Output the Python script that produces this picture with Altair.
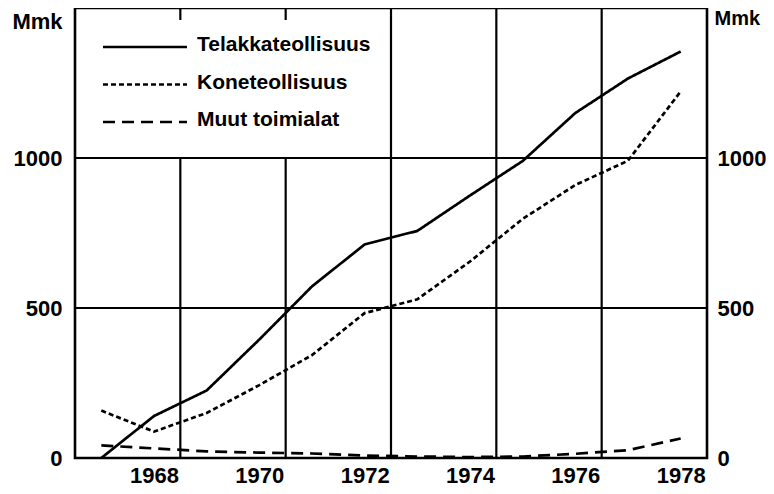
import altair as alt
import pandas as pd

# ---- data ----
years = list(range(1967, 1979))
telakka = [0, 140, 225, 395, 572, 712, 757, 875, 990, 1150, 1265, 1355]
kone = [158, 88, 150, 243, 343, 483, 529, 655, 797, 910, 991, 1222]
muut = [42, 32, 22, 18, 15, 8, 5, 3, 5, 14, 26, 65]
series_names = ["Telakkateollisuus", "Koneteollisuus", "Muut toimialat"]
x_labels = [1968, 1970, 1972, 1974, 1976, 1978]
y_labels = [0, 500, 1000]
x_domain = [1966.5, 1978.5]
y_domain = [0, 1500]
vgrid_x = [1968.5, 1970.5, 1972.5, 1974.5, 1976.5]
vgrid_top = [1000, 1000, 1500, 1500, 1500]
stub_x = [1968.5, 1970.5]
hgrid_y = [500, 1000]
y_unit = "Mmk"

FONT = "Liberation Sans"

rows = []
for name, vals in zip(series_names, [telakka, kone, muut]):
    for yr, v in zip(years, vals):
        rows.append({"series": name, "year": yr, "value": v})
df = pd.DataFrame(rows)

vg = pd.DataFrame({"x": vgrid_x, "y0": [0] * len(vgrid_x), "y1": vgrid_top})
stubs = pd.DataFrame({"x": stub_x, "y0": [1460] * len(stub_x), "y1": [1500] * len(stub_x)})
hg = pd.DataFrame({"y": hgrid_y})
leg = pd.DataFrame({"series": series_names, "i": list(range(len(series_names)))})

xscale = alt.Scale(domain=x_domain, nice=False, zero=False)
yscale = alt.Scale(domain=y_domain, nice=False, zero=False)
dash = alt.StrokeDash(
    "series:N",
    scale=alt.Scale(domain=series_names, range=[[1, 0], [5, 3], [12, 7]]),
    legend=None,
)

x_axis = alt.Axis(
    values=x_labels, format="d", ticks=False, domain=False, grid=False,
    labelPadding=7, labelFont=FONT, labelFontSize=22, labelFontWeight="bold",
    labelColor="black", labelOverlap=False, labelFlush=False, title=None,
)

vlines = alt.Chart(vg).mark_rule(color="black", strokeWidth=2.2).encode(
    x=alt.X("x:Q", scale=xscale, axis=x_axis),
    y=alt.Y("y0:Q", scale=yscale, axis=None),
    y2="y1:Q",
)
vstubs = alt.Chart(stubs).mark_rule(color="black", strokeWidth=2.2).encode(
    x=alt.X("x:Q", scale=xscale, axis=x_axis),
    y=alt.Y("y0:Q", scale=yscale, axis=None),
    y2="y1:Q",
)
hlines = alt.Chart(hg).mark_rule(color="black", strokeWidth=2.2).encode(
    y=alt.Y(
        "y:Q",
        scale=yscale,
        axis=alt.Axis(
            orient="right", values=y_labels, format="d", ticks=False, domain=False,
            grid=False, labelPadding=10, labelFont=FONT, labelFontSize=22,
            labelFontWeight="bold", labelColor="black", labelOverlap=False,
            labelFlush=False, labelAlign="left",
            title=y_unit, titleAngle=0, titleX=7, titleY=10, titleAlign="left",
            titleBaseline="middle", titleFont=FONT, titleFontSize=20,
            titleFontWeight="bold", titleColor="black",
        ),
    )
)

lines = alt.Chart(df).mark_line(color="black", strokeWidth=2.7).encode(
    x=alt.X("year:Q", scale=xscale, axis=x_axis),
    y=alt.Y(
        "value:Q",
        scale=yscale,
        axis=alt.Axis(
            orient="left", values=y_labels, format="d", ticks=False, domain=False,
            grid=False, labelPadding=13, labelFont=FONT, labelFontSize=22,
            labelFontWeight="bold", labelColor="black", labelOverlap=False,
            labelFlush=False,
            title=y_unit, titleAngle=0, titleX=-13, titleY=13, titleAlign="right",
            titleBaseline="middle", titleFont=FONT, titleFontSize=22,
            titleFontWeight="bold", titleColor="black",
        ),
    ),
    strokeDash=dash,
)

leg_rules = alt.Chart(leg).mark_rule(color="black", strokeWidth=2.7).transform_calculate(
    ly="39 + 37.5 * datum.i"
).encode(
    x=alt.value(28),
    x2=alt.value(112),
    y=alt.Y("ly:Q", scale=None, axis=None),
    strokeDash=dash,
)
leg_text = alt.Chart(leg).mark_text(
    align="left", baseline="alphabetic", font=FONT, fontSize=21,
    fontWeight="bold", color="black",
).transform_calculate(ty="43 + 37.5 * datum.i").encode(
    x=alt.value(122),
    y=alt.Y("ty:Q", scale=None, axis=None),
    text="series:N",
)

chart = (
    alt.layer(vlines, vstubs, lines, hlines, leg_rules, leg_text)
    .resolve_axis(y="independent")
    .properties(
        width=632,
        height=450,
        autosize=alt.AutoSizeParams(type="none"),
        padding={"left": 67, "top": 0, "right": 59, "bottom": 28},
        background="white",
    )
    .configure_view(stroke="black", strokeWidth=2.6)
)

chart.save("out.html", embed_options={"renderer": "svg", "actions": False})
